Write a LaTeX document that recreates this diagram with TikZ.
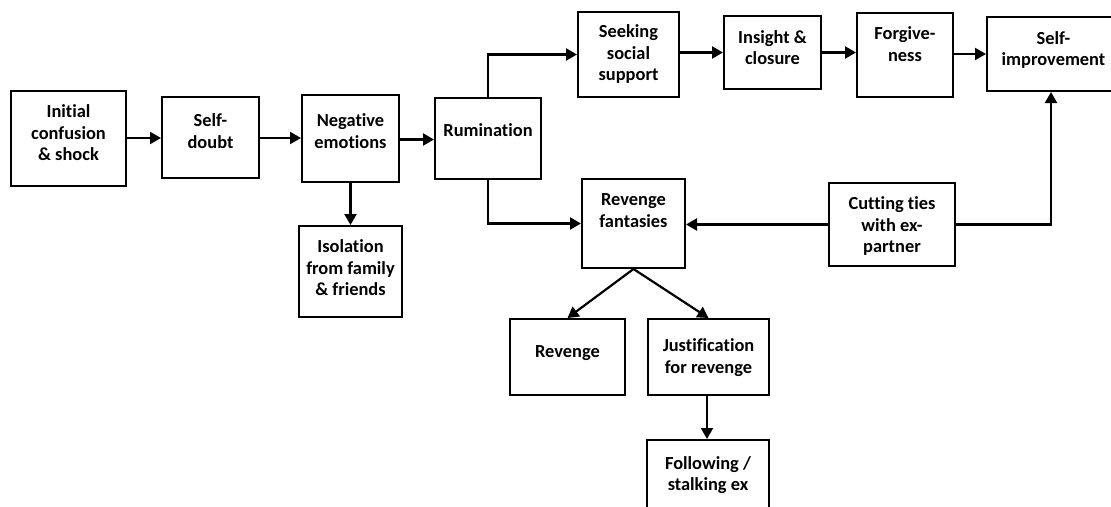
\documentclass[tikz,border=0pt]{standalone}
\usepackage{fontspec}
\setmainfont{Carlito}[Ligatures=NoCommon]
\usetikzlibrary{arrows.meta,calc}
\begin{document}
\begin{tikzpicture}[x=1pt,y=-1pt,
  box/.style={draw=black,line width=2pt,rectangle,inner sep=0pt},
  txt/.style={align=center,font=\bfseries\fontsize{18.4}{21.5}\selectfont,inner sep=0pt},
  arr/.style={line width=2.2pt,-{Triangle[length=11pt,width=12pt]}}]
\useasboundingbox (0,0) rectangle (1111,506);
\clip (0,0) rectangle (1111,506);
% boxes
\node[box,minimum width=115,minimum height=95] (init) at (68.5,138.5) {};
\node[txt] (initT) at (68.5,133) {Initial\\confusion\\\& shock};
\node[box,minimum width=97,minimum height=81] (doubt) at (210.5,137.5) {};
\node[txt] (doubtT) at (210.5,131) {Self-\\doubt};
\node[box,minimum width=97,minimum height=87] (neg) at (350.5,138.5) {};
\node[txt] (negT) at (350.5,131) {Negative\\emotions};
\node[box,minimum width=103,minimum height=91] (iso) at (350.5,271.5) {};
\node[txt] (isoT) at (350.5,268) {Isolation\\from family\\\& friends};
\node[box,minimum width=106,minimum height=81] (rum) at (488,138.5) {};
\node[txt] (rumT) at (488,130) {Rumination};
\node[box,minimum width=101,minimum height=85] (seek) at (628.5,54.5) {};
\node[txt] (seekT) at (628.5,54) {Seeking\\social\\support};
\node[box,minimum width=97,minimum height=73] (ins) at (772.5,52.5) {};
\node[txt] (insT) at (772.5,47.5) {Insight \&\\closure};
\node[box,minimum width=96,minimum height=84] (forg) at (905,55) {};
\node[txt] (forgT) at (905,44) {Forgive-\\ness};
\node[box,minimum width=133,minimum height=74] (simp) at (1053.5,54) {};
\node[txt] (simpT) at (1053.5,50) {Self-\\improvement};
\node[box,minimum width=103,minimum height=89] (revf) at (633.5,223.5) {};
\node[txt] (revfT) at (633.5,210.5) {Revenge\\fantasies};
\node[box,minimum width=126,minimum height=83] (cut) at (892,224.5) {};
\node[txt] (cutT) at (892,226) {Cutting ties\\with ex-\\partner};
\node[box,minimum width=115,minimum height=76] (rev) at (567.5,357) {};
\node[txt] (revT) at (567.5,353) {Revenge};
\node[box,minimum width=121,minimum height=76] (just) at (708.5,357) {};
\node[txt] (justT) at (708.5,357.5) {Justification\\for revenge};
\node[box,minimum width=122,minimum height=80] (follow) at (708,480) {};
\node[txt] (followT) at (708,475) {Following /\\stalking ex};
% connectors
\draw[arr] (init.east |- 0,138) -- (doubt.west |- 0,138);
\draw[arr] (doubt.east |- 0,138) -- (neg.west |- 0,138);
\draw[arr] (neg.east |- 0,139.5) -- (rum.west |- 0,139.5);
\draw[arr] (neg.south) -- (iso.north);
\draw[arr] (rum.north) |- (seek.west);
\draw[arr] (rum.south) |- (revf.west);
\draw[arr] (ins.west -| seek.east) -- (ins.west);
\draw[arr] (ins.east) -- (ins.east -| forg.west);
\draw[arr] (simp.west -| forg.east) -- (simp.west);
\draw[arr] (cut.west) -- (cut.west -| revf.east);
\draw[arr] (cut.east) -| (simp.south -| 1051,0);
\draw[arr] (revf.south) -- (rev.north);
\draw[arr] (revf.south) -- (just.north);
\draw[arr] (just.south -| 707,0) -- (follow.north -| 707,0);
\end{tikzpicture}
\end{document}
